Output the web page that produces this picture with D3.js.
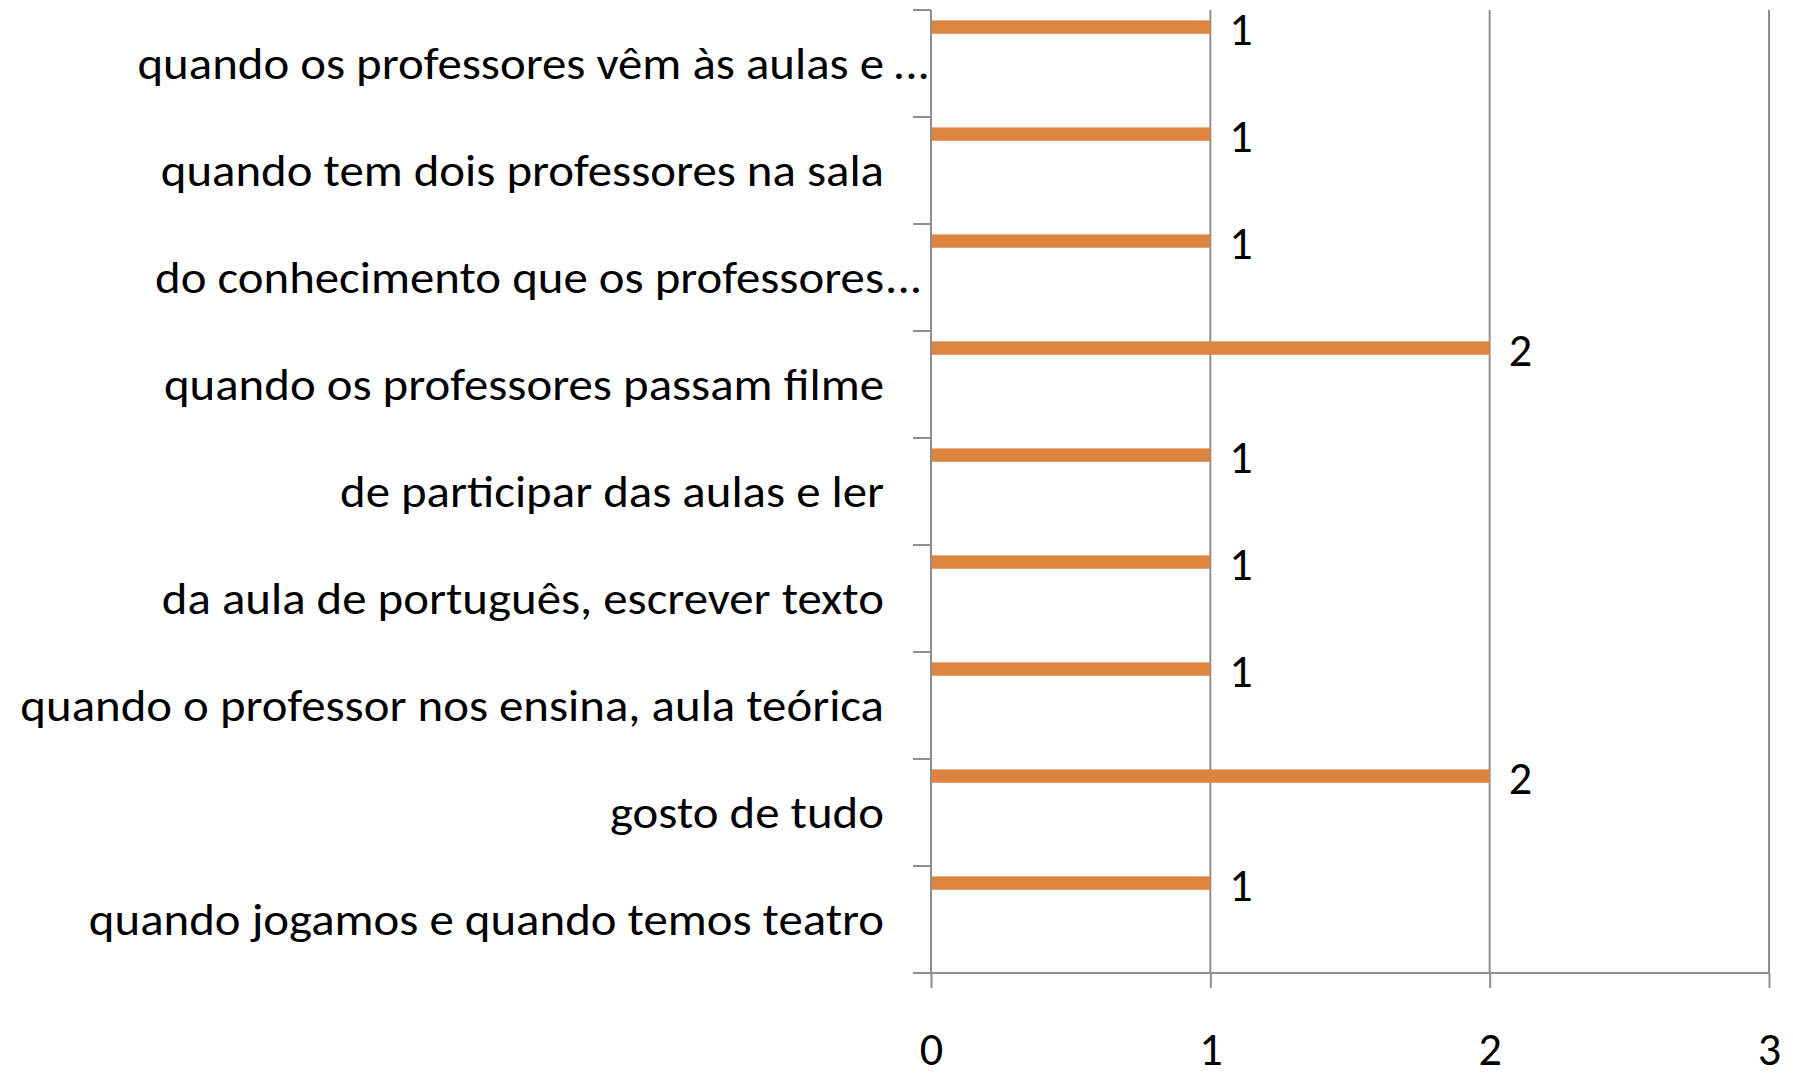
<!DOCTYPE html>
<html><head><meta charset="utf-8">
<script src="https://cdn.jsdelivr.net/npm/d3@7"></script>
<style>html,body{margin:0;padding:0;background:#fff;} svg{display:block;}</style>
</head><body>
<svg id="chart" width="1793" height="1075"></svg>
<script>
const categories = [
  "quando os professores vêm às aulas e ...",
  "quando tem dois professores na sala",
  "do conhecimento que os professores...",
  "quando os professores passam filme",
  "de participar das aulas e ler",
  "da aula de português, escrever texto",
  "quando o professor nos ensina, aula teórica",
  "gosto de tudo",
  "quando jogamos e quando temos teatro"
];
const values = [1, 1, 1, 2, 1, 1, 1, 2, 1];
const xTicks = [0, 1, 2, 3];

const FONT = "Carlito, Calibri, Lato, 'Open Sans', sans-serif";
const svg = d3.select("#chart");
const x = d3.scaleLinear().domain([0, 3]).range([931, 1769]);
const y = d3.scaleBand().domain(categories).range([10, 973]).padding(0);
const bw = y.bandwidth();
const gridColor = "#8f8f8f";

// vertical gridlines
svg.append("g").selectAll("line").data(xTicks.filter(t => t > 0)).join("line")
  .attr("x1", d => x(d)).attr("x2", d => x(d))
  .attr("y1", 10).attr("y2", 973)
  .attr("stroke", gridColor).attr("stroke-width", 2);

// bottom axis
const xAxis = d3.axisBottom(x).tickValues(xTicks).tickSize(15).tickFormat(d3.format("d"));
const gx = svg.append("g").attr("transform", "translate(0,973)").call(xAxis);
gx.select(".domain").remove();
gx.selectAll(".tick line").attr("stroke", gridColor).attr("stroke-width", 2);
gx.selectAll(".tick text").attr("y", 0).attr("dy", 0)
  .attr("transform", "translate(0,92) scale(1.05,1.08)")
  .attr("font-family", FONT).attr("font-size", 44).attr("fill", "#000");
svg.append("line").attr("x1", 913).attr("x2", x(3)).attr("y1", 973).attr("y2", 973)
  .attr("stroke", gridColor).attr("stroke-width", 2);

// left axis
svg.append("line").attr("x1", x(0)).attr("x2", x(0)).attr("y1", 10).attr("y2", 973)
  .attr("stroke", gridColor).attr("stroke-width", 2);
const bounds = categories.map(c => y(c)).concat([y.range()[1]]);
svg.append("g").selectAll("line").data(bounds).join("line")
  .attr("x1", 913).attr("x2", x(0)).attr("y1", d => d).attr("y2", d => d)
  .attr("stroke", gridColor).attr("stroke-width", 2);

// bars
svg.append("g").selectAll("rect").data(categories).join("rect")
  .attr("x", x(0) + 1)
  .attr("y", c => y(c) + bw * 0.097)
  .attr("width", (c, i) => x(values[i]) - x(0) - 1)
  .attr("height", bw * 0.125)
  .attr("fill", "#DD8440");

// value labels
svg.append("g").selectAll("text").data(categories).join("text")
  .attr("transform", (c, i) => `translate(${x(values[i]) + 19},${y(c) + bw * 0.16 + 18}) scale(1.05,1.08)`)
  .attr("font-family", FONT).attr("font-size", 44).attr("fill", "#000")
  .text((c, i) => values[i]);

// category labels
const labelX = 884;
const SX = 1.11;
const lab = svg.append("g").selectAll("g").data(categories).join("g")
  .attr("transform", c => `translate(${labelX},${y(c) + bw / 2 + 15}) scale(${SX},1.02)`);
lab.append("text")
  .attr("x", 0).attr("y", 0)
  .attr("text-anchor", "end")
  .attr("font-family", FONT).attr("font-size", 44).attr("fill", "#000")
  .text(c => c.endsWith("...") ? c.slice(0, -3).trimEnd() : c);
lab.filter(c => c.endsWith("...")).append("text")
  .attr("x", c => (c.endsWith(" ...") ? 8 : 1)).attr("y", 0)
  .attr("font-family", FONT).attr("font-size", 44).attr("fill", "#000")
  .text("...");
</script>
</body></html>
